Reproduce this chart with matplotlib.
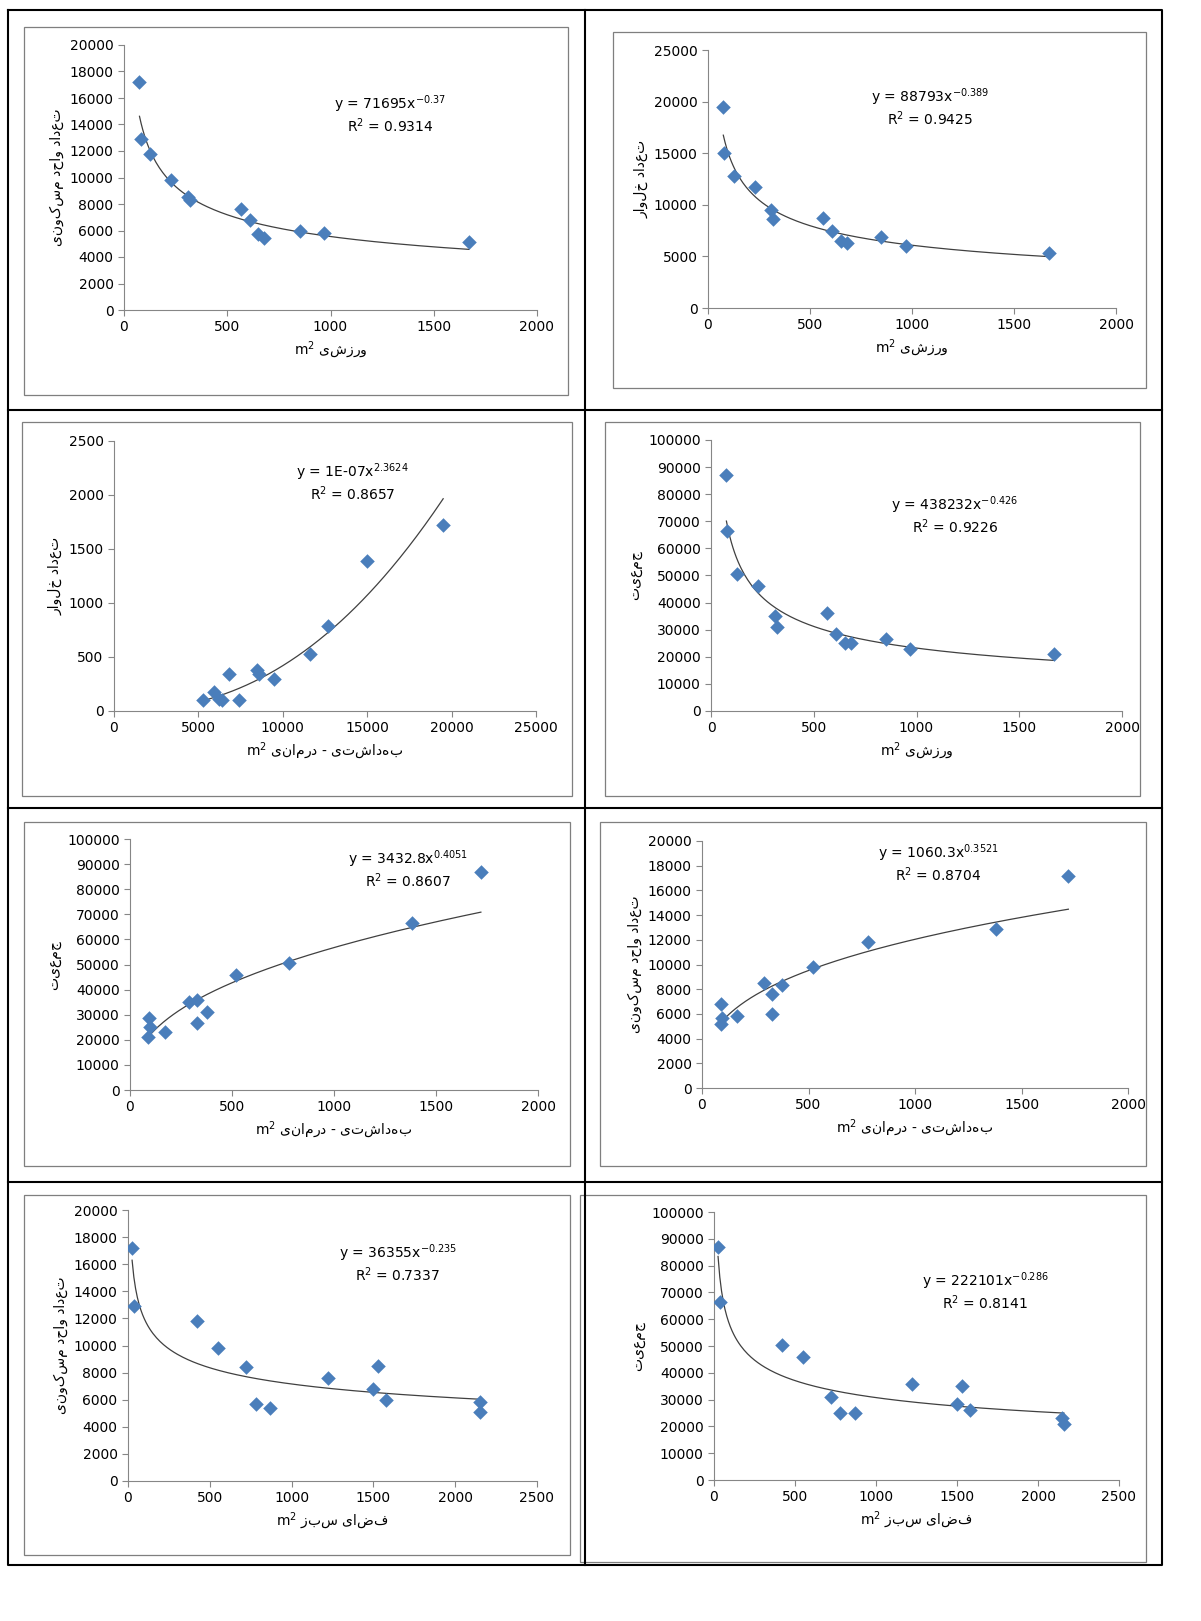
import numpy as np
import matplotlib
matplotlib.use("Agg")
import matplotlib.pyplot as plt
from matplotlib.patches import Rectangle

plt.rcParams['font.family'] = ['DejaVu Sans']
plt.rcParams['axes.unicode_minus'] = False

W, H = 1201, 1621
BLUE = "#4A7EBB"

# ---------------- data ----------------
sport_x = [75, 80, 125, 230, 310, 320, 565, 610, 650, 680, 850, 970, 1670]
sport_units = [17200, 12900, 11800, 9800, 8500, 8300, 7600, 6800, 5700, 5400, 6000, 5800, 5100]
sport_khalvar = [19500, 15000, 12800, 11700, 9500, 8600, 8700, 7500, 6500, 6300, 6900, 6000, 5300]
sport_pop = [87000, 66500, 50500, 46000, 35000, 31000, 36000, 28500, 25000, 25000, 26500, 23000, 21000]

health_big_x = [5300, 5900, 6200, 6400, 6800, 7400, 8500, 8600, 9500, 11600, 12700, 15000, 19500]
health_big_khalvar = [100, 180, 110, 100, 340, 100, 380, 340, 300, 530, 790, 1390, 1720]

health_x = [90, 95, 100, 170, 290, 330, 330, 375, 520, 780, 1380, 1720]
health_pop = [21000, 28500, 25000, 23000, 35000, 36000, 26500, 31000, 46000, 50500, 66500, 87000]
health_x2 = [90, 90, 95, 165, 290, 330, 330, 375, 520, 780, 1380, 1720]
health_units = [5200, 6800, 5700, 5800, 8500, 7600, 6000, 8300, 9800, 11800, 12900, 17200]

green_x = [25, 35, 420, 550, 720, 780, 870, 1220, 1500, 1530, 1580, 2150, 2150]
green_units = [17200, 12900, 11800, 9800, 8400, 5700, 5400, 7600, 6800, 8500, 6000, 5800, 5100]
green_x2 = [25, 35, 420, 550, 720, 780, 870, 1220, 1500, 1530, 1580, 2150, 2160]
green_pop = [87000, 66500, 50500, 46000, 31000, 25000, 25000, 36000, 28500, 35000, 26000, 23000, 21000]


def fa(s):
    # matplotlib has no RTL shaping; reverse so the reading order is right
    return s[::-1]


L_UNITS = fa("تعداد واحد مسکونی")
L_KHALVAR = fa("تعداد خلوار")
L_POP = fa("جمعیت")
X_SPORT = "m$^2$ " + fa("ورزشی")
X_HEALTH = "m$^2$ " + fa("بهداشتی - درمانی")
X_GREEN = "m$^2$ " + fa("فضای سبز")

panels = [
    dict(box=(24, 27, 568, 395), plot=(124, 537, 45, 310), x=sport_x, y=sport_units,
         xlim=2000, xs=500, ylim=20000, ys=2000, yl=L_UNITS, xl=X_SPORT,
         eq=("71695", "-0.37"), r2="0.9314", pos=(390, 104)),
    dict(box=(613, 32, 1146, 388), plot=(708, 1116, 50, 308), x=sport_x, y=sport_khalvar,
         xlim=2000, xs=500, ylim=25000, ys=5000, yl=L_KHALVAR, xl=X_SPORT,
         eq=("88793", "-0.389"), r2="0.9425", pos=(930, 97)),
    dict(box=(22, 422, 572, 796), plot=(114, 536, 441, 711), x=health_big_x, y=health_big_khalvar,
         xlim=25000, xs=5000, ylim=2500, ys=500, yl=L_KHALVAR, xl=X_HEALTH,
         eq=("1E-07", "2.3624"), r2="0.8657", pos=(352, 472)),
    dict(box=(605, 422, 1140, 796), plot=(711, 1122, 440, 711), x=sport_x, y=sport_pop,
         xlim=2000, xs=500, ylim=100000, ys=10000, yl=L_POP, xl=X_SPORT,
         eq=("438232", "-0.426"), r2="0.9226", pos=(955, 505)),
    dict(box=(24, 822, 570, 1166), plot=(130, 538, 839, 1090), x=health_x, y=health_pop,
         xlim=2000, xs=500, ylim=100000, ys=10000, yl=L_POP, xl=X_HEALTH,
         eq=("3432.8", "0.4051"), r2="0.8607", pos=(408, 859)),
    dict(box=(600, 822, 1146, 1166), plot=(702, 1128, 841, 1088), x=health_x2, y=health_units,
         xlim=2000, xs=500, ylim=20000, ys=2000, yl=L_UNITS, xl=X_HEALTH,
         eq=("1060.3", "0.3521"), r2="0.8704", pos=(938, 853)),
    dict(box=(24, 1195, 570, 1555), plot=(128, 537, 1210, 1481), x=green_x, y=green_units,
         xlim=2500, xs=500, ylim=20000, ys=2000, yl=L_UNITS, xl=X_GREEN,
         eq=("36355", "-0.235"), r2="0.7337", pos=(398, 1253)),
    dict(box=(580, 1195, 1146, 1562), plot=(714, 1119, 1212, 1480), x=green_x2, y=green_pop,
         xlim=2500, xs=500, ylim=100000, ys=10000, yl=L_POP, xl=X_GREEN,
         eq=("222101", "-0.286"), r2="0.8141", pos=(985, 1281)),
]

fig = plt.figure(figsize=(W / 100, H / 100), dpi=100)
fig.patch.set_facecolor("white")


def fline(xs, ys, lw=1.5):
    fig.add_artist(plt.Line2D([x / W for x in xs], [1 - y / H for y in ys],
                              color="black", lw=lw, transform=fig.transFigure))


# table grid
fline([8, 1162, 1162, 8, 8], [10, 10, 1565, 1565, 10])
fline([585, 585], [10, 1565])
for yy in [410, 808, 1182]:
    fline([8, 1162], [yy, yy])

for p in panels:
    bx0, by0, bx1, by1 = p["box"]
    fig.add_artist(Rectangle((bx0 / W, 1 - by1 / H), (bx1 - bx0) / W, (by1 - by0) / H,
                             fill=False, ec="#7f7f7f", lw=0.9, transform=fig.transFigure))
    x0, x1, yt, yb = p["plot"]
    ax = fig.add_axes([x0 / W, 1 - yb / H, (x1 - x0) / W, (yb - yt) / H])
    ax.set_xlim(0, p["xlim"])
    ax.set_ylim(0, p["ylim"])
    ax.set_xticks(np.arange(0, p["xlim"] + 1, p["xs"]))
    ax.set_yticks(np.arange(0, p["ylim"] + 1, p["ys"]))
    for s in ["top", "right"]:
        ax.spines[s].set_visible(False)
    for s in ["left", "bottom"]:
        ax.spines[s].set_color("#868686")
    ax.tick_params(labelsize=10, color="#868686", length=4, direction="out")
    x = np.array(p["x"], float)
    y = np.array(p["y"], float)
    # Excel-style power trendline
    b, a = np.polyfit(np.log(x), np.log(y), 1)
    xx = np.linspace(x.min(), x.max(), 200)
    ax.plot(xx, np.exp(a) * xx ** b, color="#404040", lw=0.9, zorder=2)
    ax.scatter(x, y, marker="D", s=55, color=BLUE, zorder=3, linewidths=0)
    ax.set_ylabel(p["yl"], fontsize=10)
    ax.set_xlabel(p["xl"], fontsize=10)
    ex, ey = p["pos"]
    fx = (ex - x0) / (x1 - x0)
    fy = (yb - ey) / (yb - yt)
    c, e = p["eq"]
    ax.text(fx, fy, "y = %sx$^{%s}$" % (c, e), transform=ax.transAxes,
            ha="center", va="center", fontsize=10)
    ax.text(fx, fy - 22 / (yb - yt), "R$^2$ = %s" % p["r2"], transform=ax.transAxes,
            ha="center", va="center", fontsize=10)

fig.savefig("out.png", dpi=100)
